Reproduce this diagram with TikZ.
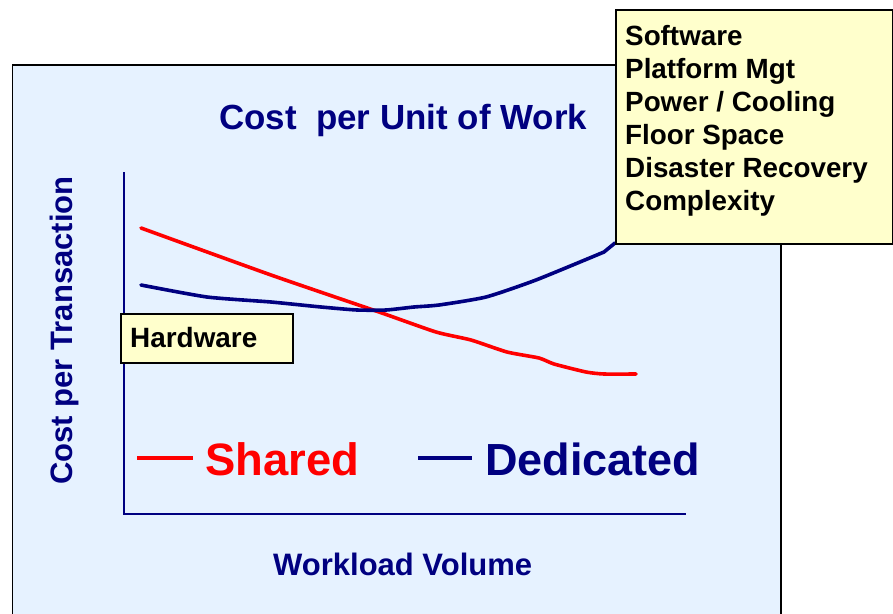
\documentclass[tikz,border=0pt]{standalone}
\usepackage{fontspec}
\setmainfont{Liberation Sans}
\definecolor{navy}{HTML}{000080}
\definecolor{panelblue}{HTML}{E6F2FF}
\definecolor{noteyellow}{HTML}{FFFFCC}
\newcommand{\fs}[1]{\fontsize{#1}{#1}\selectfont\bfseries}
\begin{document}
\begin{tikzpicture}[x=1pt,y=-1pt,
  txt/.style={inner sep=0pt, anchor=base west},
  note/.style={draw=black, line width=1.6pt, fill=noteyellow, inner sep=0pt, anchor=north west},
  curve/.style={line width=3.6pt, line join=round, line cap=round},
  axisline/.style={draw=navy, line width=1.8pt}]
\useasboundingbox (0,0) rectangle (893,613);
\begin{scope}
\clip (0,0) rectangle (893,613);
% chart panel
\draw[fill=panelblue, line width=1.8pt] (12.5,65) rectangle (781,640);
\end{scope}

% title
\node[txt, text=navy, font=\fs{34.9}] (title) at (219,129) {Cost\ \ per Unit of Work};

% axes
\coordinate (ytop) at (124,172);
\coordinate (origin) at (124,514);
\coordinate (xend) at (686,514);
\draw[axisline] (ytop) -- (origin) -- (xend);

% axis labels
\node[txt, text=navy, font=\fs{31}, rotate=90] (ylabel) at (72,485) {Cost per Transaction};
\node[txt, text=navy, font=\fs{31}] (xlabel) at (273,575) {Workload Volume};

% cost curves
\coordinate (boxcorner) at (615,243);
\draw[curve, red] plot[smooth, tension=0.35] coordinates {
  (141,228) (271,275) (379,312) (436,332) (471,340) (507,352)
  (539,358) (554,364) (586,372) (604,374) (636,374)};
\draw[curve, navy] plot[smooth, tension=0.35] coordinates {
  (141,285) (207,297) (271,302) (321,307) (357,310) (386,310)
  (414,307) (439,305) (486,297) (536,280) (604,252)} -- (boxcorner);

% cost categories box
\node[note, minimum width=277pt, minimum height=234pt] (soft) at (615,9) {};
\node[txt, font=\fs{27.8}] (s1) at (625,45) {Software};
\node[txt, font=\fs{27.8}] (s2) at (625,78) {Platform Mgt};
\node[txt, font=\fs{27.8}] (s3) at (625,111) {Power / Cooling};
\node[txt, font=\fs{27.8}] (s4) at (625,144) {Floor Space};
\node[txt, font=\fs{27.8}] (s5) at (625,177) {Disaster Recovery};
\node[txt, font=\fs{27.8}] (s6) at (625,210) {Complexity};

% hardware box
\node[note, minimum width=172pt, minimum height=49pt] (hw) at (120,313) {};
\node[txt, font=\fs{27.9}] (hwtext) at (130,347) {Hardware};

% legend
\coordinate (rs) at (137,458);
\coordinate (re) at (193,458);
\draw[red, line width=3.6pt] (rs) -- (re);
\node[txt, text=red, font=\fs{45.4}] (shared) at (205,475) {Shared};
\coordinate (bs) at (418,458);
\coordinate (be) at (472,458);
\draw[navy, line width=3.6pt] (bs) -- (be);
\node[txt, text=navy, font=\fs{45}] (dedicated) at (485,475) {Dedicated};
\end{tikzpicture}
\end{document}
